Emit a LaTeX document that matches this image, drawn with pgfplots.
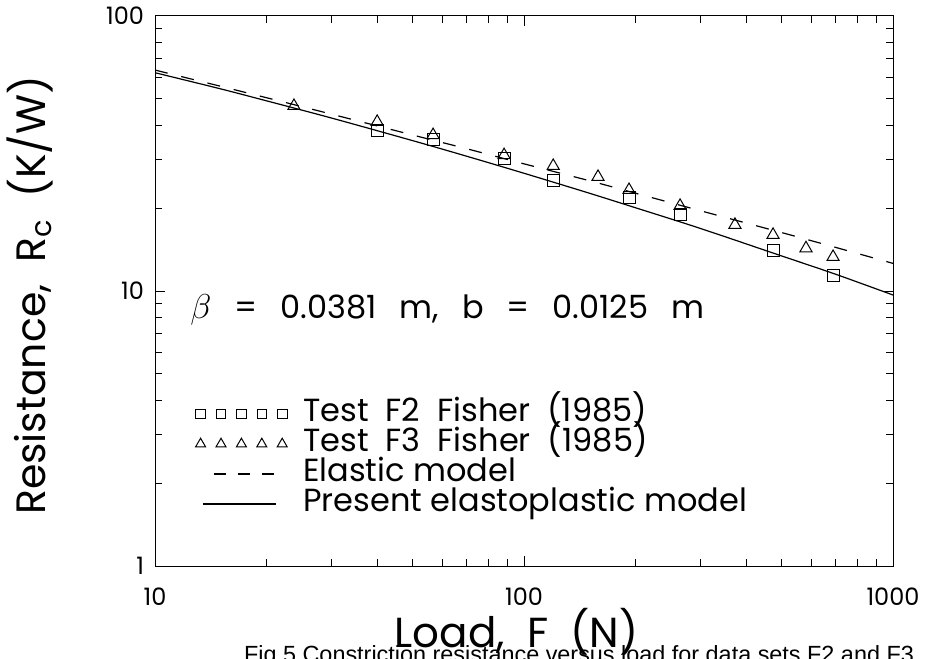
\documentclass[border=0pt]{standalone}
\usepackage{pgfplots}
\pgfplotsset{compat=1.18}
\usepackage{fontspec}
\setmainfont{Poppins}
\newfontfamily\capfont{Liberation Sans}

\begin{document}
\begin{tikzpicture}
\begin{axis}[
    name=ax,
    scale only axis,
    width=369pt, height=275pt,
    xmode=log, ymode=log,
    xmin=10, xmax=1000,
    ymin=1, ymax=100,
    xtick={10,100,1000}, xticklabels={10,100,1000},
    ytick={1,10,100}, yticklabels={1,10,100},
    tick pos=both, tick align=inside,
    major tick length=5pt, minor tick length=3.5pt,
    every tick/.style={black, line width=0.5pt},
    axis line style={line width=0.5pt},
    ticklabel style={font=\fontsize{12}{14}\selectfont},
    xticklabel style={yshift=-7.5pt},
    yticklabel style={xshift=-2pt},
    xlabel={Load,\ \ F\ \ (N)},
    ylabel={Resistance,\ \ R\textsubscript{c}\ \ (K/W)},
    every axis x label/.style={at={(rel axis cs:0.49,0)}, yshift=-40.5pt, anchor=base,
        font=\fontsize{21}{24}\selectfont},
    every axis y label/.style={at={(rel axis cs:0,0.492)}, xshift=-55pt, rotate=90, anchor=base,
        font=\fontsize{20.5}{24}\selectfont},
    legend style={
        at={(rel axis cs:0.0542,0.3036)}, anchor=north west,
        draw=none, fill=none, inner sep=0pt, outer sep=0pt,
        font=\fontsize{16}{18}\selectfont,
        nodes={inner sep=0pt, text height=11pt, text depth=4pt},
        column sep=7.5pt, row sep=0pt,
    },
    legend cell align=left,
]

% Test F2 Fisher (1985)
\addplot[only marks, mark=square, mark size=3pt, mark options={black, line width=0.5pt},
    legend image code/.code={
        \foreach \k in {0,1,2,3,4} {
            \draw[black, line width=0.5pt] plot[mark=square, mark size=2.4pt] coordinates {({2.5pt+\k*10.2pt},0pt)};
        }
        \path (0pt,0pt) (46pt,0pt);
    }]
    coordinates {
    (40,38.5)(56.7,35.7)(88.3,30.4)(120,25.3)(192.6,21.8)(264.8,18.9)(473,14.0)(688,11.4)
    };
\addlegendentry{Test\ \ F2\ \ Fisher\ \ (1985)}

% Test F3 Fisher (1985)
\addplot[only marks, mark=triangle, mark size=3.5pt, mark options={black, line width=0.5pt},
    legend image code/.code={
        \foreach \k in {0,1,2,3,4} {
            \draw[black, line width=0.5pt] plot[mark=triangle, mark size=2.9pt] coordinates {({2.5pt+\k*10.2pt},0pt)};
        }
        \path (0pt,0pt) (46pt,0pt);
    }]
    coordinates {
    (23.8,47.1)(40,41.2)(56.7,36.9)(88.3,31.2)(120,28.5)(158.7,26.0)
    (192.6,23.3)(264.8,20.4)(373,17.4)(473,16.0)(581,14.3)(688,13.3)
    };
\addlegendentry{Test\ \ F3\ \ Fisher\ \ (1985)}

% Elastic model
\addplot[black, line width=0.6pt, dash pattern=on 6.5pt off 7pt, smooth,
    legend image code/.code={
        \draw[black, line width=0.6pt, dash pattern=on 6pt off 6pt] (9pt,0pt) -- (39pt,0pt);
        \path (0pt,0pt) (46pt,0pt);
    }]
    coordinates {
    (10,63.6)(15,55.6)(20,50.5)(30,44.0)(50,36.9)(70,32.9)(100,29.0)
    (150,25.2)(200,22.7)(300,19.6)(500,16.3)(700,14.4)(1000,12.6)
    };
\addlegendentry{Elastic model}

% Present elastoplastic model
\addplot[black, line width=0.6pt, smooth,
    legend image code/.code={
        \draw[black, line width=0.6pt] (3.5pt,0pt) -- (40pt,0pt);
        \path (0pt,0pt) (46pt,0pt);
    }]
    coordinates {
    (10,62.2)(15,54.4)(20,49.2)(30,42.6)(50,35.2)(70,30.9)(100,26.8)
    (150,22.7)(200,20.1)(300,16.9)(500,13.4)(700,11.5)(1000,9.67)
    };
\addlegendentry{Present elastoplastic model}

\end{axis}

\node[anchor=base west, font=\fontsize{16}{18}\selectfont, inner sep=0pt]
    at (17.5pt,123.5pt) {$\beta$\hspace{11.5pt}=\hspace{11.5pt}0.0381\hspace{11.5pt}m,\hspace{11.5pt}b\hspace{11.5pt}=\hspace{11.5pt}0.0125\hspace{11.5pt}m};

\node[anchor=base, font=\capfont\fontsize{11.7}{14}\selectfont, inner sep=0pt]
    at (212pt,-48pt) {Fig.5 Constriction resistance versus load for data sets F2 and F3};

\pgfresetboundingbox
\path[use as bounding box] (-77.5pt,-46pt) rectangle (387pt,283pt);
\end{tikzpicture}
\end{document}
